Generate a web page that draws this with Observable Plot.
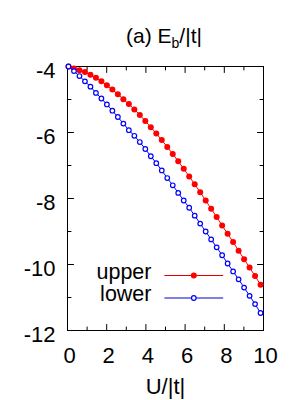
<!DOCTYPE html>
<html><head><meta charset="utf-8">
<script src="https://cdn.jsdelivr.net/npm/d3@7"></script>
<script src="https://cdn.jsdelivr.net/npm/@observablehq/plot@0.6"></script>
<style>body{margin:0;background:#fff}</style>
</head><body><div id="chart"></div>
<script>
const U = [0.05,0.33,0.61,0.89,1.17,1.45,1.73,2.01,2.29,2.57,2.85,3.13,3.41,3.69,3.97,4.25,4.53,4.81,5.09,5.37,5.65,5.93,6.21,6.49,6.77,7.05,7.33,7.61,7.89,8.17,8.45,8.73,9.01,9.29,9.57,9.85];
const upper = [-4.00,-4.06,-4.11,-4.17,-4.25,-4.34,-4.45,-4.57,-4.70,-4.84,-4.99,-5.14,-5.30,-5.47,-5.65,-5.84,-6.03,-6.23,-6.44,-6.65,-6.87,-7.10,-7.33,-7.57,-7.81,-8.06,-8.31,-8.56,-8.82,-9.07,-9.32,-9.58,-9.84,-10.09,-10.35,-10.61];
const lower = [-4.00,-4.14,-4.29,-4.45,-4.61,-4.80,-4.97,-5.15,-5.34,-5.53,-5.73,-5.93,-6.10,-6.29,-6.50,-6.72,-6.93,-7.15,-7.38,-7.60,-7.83,-8.06,-8.28,-8.52,-8.76,-9.00,-9.24,-9.48,-9.72,-9.97,-10.21,-10.45,-10.70,-10.95,-11.20,-11.47];
const xMajor = [0,2,4,6,8,10];
const xMinor = [1,3,5,7,9];
const yMajor = [-12,-10,-8,-6,-4];
const yMinor = [-11,-9,-7,-5];
const seriesNames = ["upper","lower"];
const xLabel = "U/|t|";

const upperData = U.map((u,i)=>({U:u,E:upper[i]}));
const lowerData = U.map((u,i)=>({U:u,E:lower[i]}));

const seg = {draw(ctx, l){ ctx.moveTo(0,0); ctx.lineTo(0,-l); }};
function ticks(data, k, anchor, len){
  const rot = {bottom:0, top:180, left:90, right:-90}[anchor];
  return Plot.vector(data, {[k]: d=>d, frameAnchor: anchor, length: len, rotate: rot, anchor: "start", shape: seg, stroke: "black", strokeWidth: 1});
}
const font = "Liberation Sans, Arial, Helvetica, sans-serif";

const legendRows = [
  {name: seriesNames[0], dy: -55, color: "#ff0000", fill: "#ff0000", r: 3, sw: 0, lineColor: "#e00000"},
  {name: seriesNames[1], dy: -32.5, color: "#0000ff", fill: "white", r: 2.3, sw: 1.2, lineColor: "#0000d0"}
];
const legendMarks = legendRows.flatMap(row => [
  Plot.vector([0], {frameAnchor: "bottom-left", dx: 97.3, dy: row.dy, length: 58, rotate: 90, anchor: "start", shape: seg, stroke: row.lineColor, strokeWidth: 1}),
  Plot.dot([0], {frameAnchor: "bottom-left", dx: 126.3, dy: row.dy, r: row.r, fill: row.fill, stroke: row.color, strokeWidth: row.sw}),
  Plot.text([row.name], {frameAnchor: "bottom-left", dx: 84, dy: row.dy + 3, textAnchor: "end", fontSize: 21.5, fill: "black"})
]);

const plot = Plot.plot({
  width: 300, height: 400,
  marginLeft: 67, marginRight: 37, marginTop: 66, marginBottom: 70,
  style: {fontFamily: font, background: "white", color: "black"},
  x: {domain: [0,10]},
  y: {domain: [-12,-4]},
  marks: [
    Plot.frame({stroke: "black", strokeWidth: 1}),
    ticks(xMajor, "x", "bottom", 6), ticks(xMinor, "x", "bottom", 3.5),
    ticks(xMajor, "x", "top", 6), ticks(xMinor, "x", "top", 3.5),
    ticks(yMajor, "y", "left", 6), ticks(yMinor, "y", "left", 3.5),
    ticks(yMajor, "y", "right", 6), ticks(yMinor, "y", "right", 3.5),
    Plot.axisX({ticks: xMajor, tickSize: 0, tickPadding: 17, fontSize: 22, dx: 2, label: null, tickFormat: d => String(d)}),
    Plot.axisY({ticks: yMajor, tickSize: 0, tickPadding: 12, fontSize: 22, dy: 4.5, label: null, tickFormat: d => String(d)}),
    Plot.line(upperData, {x: "U", y: "E", stroke: "#ff0000", strokeWidth: 1}),
    Plot.dot(upperData, {x: "U", y: "E", r: 3, fill: "#ff0000", stroke: "none"}),
    Plot.line(lowerData, {x: "U", y: "E", stroke: "#0000ff", strokeWidth: 1}),
    Plot.dot(lowerData, {x: "U", y: "E", r: 2.3, fill: "white", stroke: "#0000ff", strokeWidth: 1.2}),
    ...legendMarks,
    Plot.text([xLabel], {frameAnchor: "bottom", dy: 48, lineAnchor: "top", fontSize: 22, fill: "black"})
  ]
});
document.getElementById("chart").appendChild(plot);

const svg = d3.select(plot);
const t = svg.append("text")
  .attr("x", 164).attr("y", 43)
  .attr("text-anchor", "middle")
  .attr("font-family", font).attr("font-size", 21).attr("fill", "black");
t.append("tspan").text("(a) E");
t.append("tspan").attr("font-size", 14).attr("dy", 5).text("b");
t.append("tspan").attr("dy", -5).text("/|t|");
</script>
</body></html>
